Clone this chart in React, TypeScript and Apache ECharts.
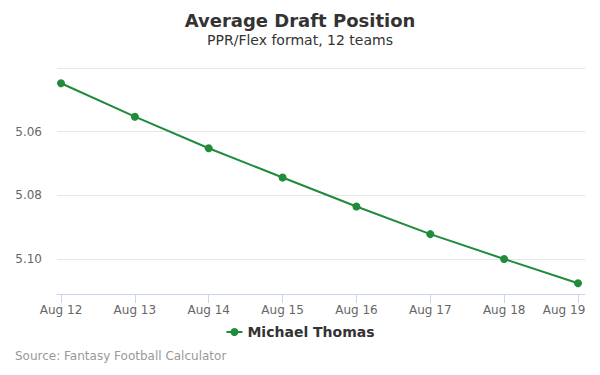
import React, { useEffect, useRef } from "react";
import * as echarts from "echarts";

const categories = ["Aug 12", "Aug 13", "Aug 14", "Aug 15", "Aug 16", "Aug 17", "Aug 18", "Aug 19"];
const seriesName = "Michael Thomas";
const adpValues = [5.0448, 5.0553, 5.0652, 5.0744, 5.0835, 5.0922, 5.1, 5.1076];
const yTicks = [5.06, 5.08, 5.1];
const yMin = 5.04;
const yMax = 5.111;

const FONT = "DejaVu Sans";

export default function App() {
  const ref = useRef<HTMLDivElement>(null);
  useEffect(() => {
    if (!ref.current) return;
    const chart = echarts.init(ref.current, undefined, { renderer: "svg" });
    chart.setOption({
      animation: false,
      backgroundColor: "#ffffff",
      textStyle: { fontFamily: FONT },
      title: [
        {
          text: "Average Draft Position",
          left: "center",
          top: 6,
          textStyle: { fontSize: 18, fontWeight: "bold", color: "#333333", fontFamily: FONT },
        },
        {
          text: "PPR/Flex format, 12 teams",
          left: "center",
          top: 28,
          textStyle: { fontSize: 14, fontWeight: "normal", color: "#333333", fontFamily: FONT },
        },
        {
          text: "Source: Fantasy Football Calculator",
          left: 10,
          top: 345,
          textStyle: { fontSize: 12, fontWeight: "normal", color: "#999999", fontFamily: FONT },
        },
      ],
      legend: {
        data: [seriesName],
        left: "center",
        top: 320,
        itemWidth: 16,
        itemHeight: 10,
        textStyle: { fontSize: 14, fontWeight: "bold", color: "#333333", fontFamily: FONT },
      },
      grid: [
        { left: 61, right: 22, top: 68, bottom: 81 },
        { left: 57, right: 15, top: 68, bottom: 81 },
      ],
      xAxis: [
        {
          type: "category",
          gridIndex: 0,
          data: categories,
          boundaryGap: false,
          axisLine: { show: false },
          axisTick: { show: true, length: 9, alignWithLabel: true, lineStyle: { color: "#ccd6eb" } },
          axisLabel: {
            color: "#666666",
            fontSize: 12,
            margin: 10,
            fontFamily: FONT,
            interval: 0,
            formatter: (v: string, i: number) =>
              i === categories.length - 1 ? "{last|" + v + "}" : v,
            rich: {
              last: { color: "#666666", fontSize: 12, fontFamily: FONT, padding: [0, 28, 0, 0] },
            },
          },
          splitLine: { show: false },
        },
        {
          type: "value",
          gridIndex: 1,
          min: 0,
          max: 1,
          axisLine: { show: true, lineStyle: { color: "#ccd6eb", width: 1 } },
          axisTick: { show: false },
          axisLabel: { show: false },
          splitLine: { show: false },
        },
      ],
      yAxis: [
        {
          type: "value",
          gridIndex: 0,
          inverse: true,
          min: yMin,
          max: yMax,
          show: false,
          splitLine: { show: false },
        },
        {
          type: "value",
          gridIndex: 1,
          inverse: true,
          min: yMin,
          max: yMax,
          interval: 0.02,
          axisLine: { show: false },
          axisTick: { show: false },
          splitLine: { show: true, lineStyle: { color: "#e6e6e6", width: 1 } },
          axisLabel: {
            color: "#666666",
            fontSize: 12,
            fontFamily: FONT,
            margin: 15,
            formatter: (v: number) => {
              const hit = yTicks.find((t) => Math.abs(t - v) < 1e-6);
              return hit !== undefined ? hit.toFixed(2) : "";
            },
          },
        },
      ],
      series: [
        {
          name: seriesName,
          type: "line",
          xAxisIndex: 0,
          yAxisIndex: 0,
          data: adpValues,
          symbol: "circle",
          symbolSize: 8,
          lineStyle: { color: "#1f8b3b", width: 2 },
          itemStyle: { color: "#1f8b3b" },
        },
      ],
    });
    return () => chart.dispose();
  }, []);
  return <div ref={ref} style={{ width: 600, height: 375, position: "absolute", left: 0, top: 0 }} />;
}
